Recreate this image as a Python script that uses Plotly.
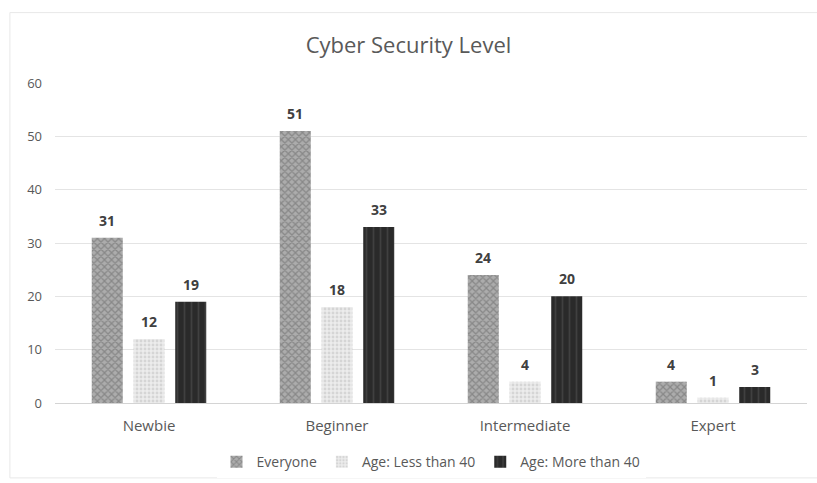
import plotly.graph_objects as go

categories = ["Newbie", "Beginner", "Intermediate", "Expert"]
everyone = [31, 51, 24, 4]
less_40 = [12, 18, 4, 1]
more_40 = [19, 33, 20, 3]
series_names = ["Everyone", "Age: Less than 40", "Age: More than 40"]

FONT = "'Open Sans', sans-serif"

styles = [
    dict(color="#969696", pattern=dict(shape="x", fgcolor="#646464", bgcolor="#acacac", size=5, solidity=0.45)),
    dict(color="#e0e0e0", pattern=dict(shape=".", fgcolor="#bdbdbd", bgcolor="#ececec", size=4, solidity=0.4)),
    dict(color="#303030", pattern=dict(shape="|", fgcolor="#555555", bgcolor="#2a2a2a", size=7, solidity=0.25)),
]

# bar geometry in category units
BAR_W = 0.165
CENTERS = [-0.222, 0.0, 0.222]

xs = list(range(len(categories)))
fig = go.Figure()
annotations = []
for name, vals, st, c in zip(series_names, [everyone, less_40, more_40], styles, CENTERS):
    fig.add_trace(go.Bar(
        x=xs, y=vals, name=name, width=BAR_W, offset=c - BAR_W / 2,
        marker=dict(color=st["color"], pattern=st["pattern"], line=dict(width=0)),
    ))
    for xi, v in zip(xs, vals):
        annotations.append(dict(x=xi + c, y=v, xref="x", yref="y", text=f"<b>{v}</b>",
                                showarrow=False, yanchor="bottom", yshift=6,
                                font=dict(family=FONT, size=14, color="#404040")))

fig.update_layout(
    width=817, height=483,
    margin=dict(l=55, r=10, t=83, b=80, autoexpand=False),
    paper_bgcolor="white", plot_bgcolor="white",
    barmode="overlay",
    font=dict(family=FONT, size=14, color="#595959"),
    title=dict(text="Cyber Security Level", x=0.5, xanchor="center", y=0.907, yanchor="middle",
               font=dict(family=FONT, size=22, color="#595959")),
    legend=dict(orientation="h", x=0.5, xanchor="center", y=-0.185, yanchor="middle",
                font=dict(family=FONT, size=14, color="#595959"), itemwidth=30,
                traceorder="normal"),
    showlegend=True,
    annotations=annotations,
    shapes=[dict(type="rect", xref="paper", yref="paper", x0=-0.06, x1=1.05, y0=-0.234, y1=1.22,
                 line=dict(color="#e8e8e8", width=1), layer="below")],
)
fig.update_yaxes(range=[0, 60], dtick=10, showgrid=True, gridcolor="#e4e4e4", gridwidth=1,
                 zeroline=True, zerolinecolor="#d4d4d4", zerolinewidth=1, showline=False,
                 ticks="", tickfont=dict(size=13, color="#595959"), ticklabelstandoff=12,
                 automargin=False)
fig.update_xaxes(range=[-0.5, len(categories) - 0.5], tickvals=xs, ticktext=categories,
                 showgrid=False, zeroline=False, showline=False, ticks="",
                 tickfont=dict(size=15, color="#595959"), ticklabelstandoff=12,
                 automargin=False)

fig.write_html("out.html")
